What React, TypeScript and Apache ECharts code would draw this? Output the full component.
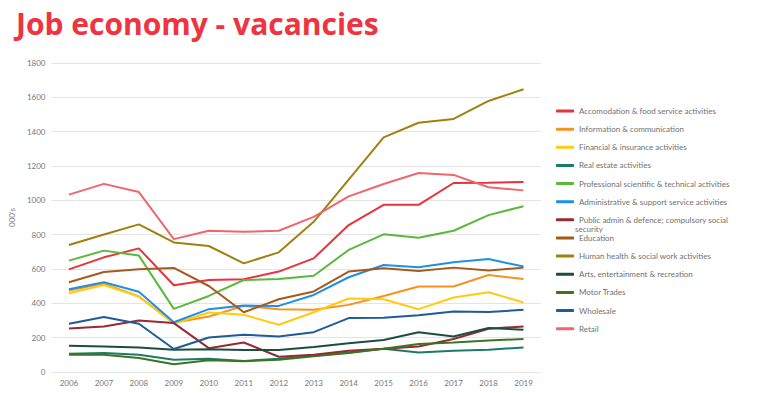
import React, { useEffect, useRef } from "react";
import * as echarts from "echarts";

const years = ["2006","2007","2008","2009","2010","2011","2012","2013","2014","2015","2016","2017","2018","2019"];

const accommodation = [598, 668, 720, 505, 536, 540, 585, 662, 856, 974, 974, 1101, 1103, 1107];
const information = [475, 515, 440, 287, 323, 385, 366, 362, 391, 443, 498, 498, 565, 542];
const financial = [459, 507, 440, 281, 347, 333, 275, 348, 428, 424, 366, 434, 465, 405];
const realEstate = [106, 110, 101, 72, 77, 64, 77, 95, 114, 136, 114, 124, 130, 143];
const professional = [649, 707, 678, 368, 443, 536, 542, 561, 711, 802, 782, 823, 914, 966];
const administrative = [482, 523, 467, 290, 366, 387, 385, 449, 552, 623, 610, 639, 658, 614];
const publicAdmin = [254, 265, 300, 285, 139, 172, 89, 101, 124, 136, 149, 192, 252, 265];
const education = [523, 583, 598, 606, 501, 348, 424, 469, 585, 604, 589, 608, 591, 608];
const health = [740, 801, 860, 755, 734, 633, 697, 875, 1120, 1367, 1452, 1474, 1579, 1647];
const arts = [153, 149, 143, 130, 132, 128, 128, 145, 168, 186, 232, 207, 256, 246];
const motor = [101, 101, 81, 45, 68, 62, 72, 91, 110, 136, 163, 172, 184, 192];
const wholesale = [281, 321, 281, 134, 201, 217, 207, 232, 314, 316, 331, 352, 349, 362];
const retail = [1033, 1096, 1048, 774, 823, 817, 823, 904, 1023, 1095, 1159, 1148, 1076, 1058];

const seriesDefs: [string, number[], string][] = [
  ["Accomodation & food service activities", accommodation, "#e8333c"],
  ["Information & communication", information, "#f7921e"],
  ["Financial & insurance activities", financial, "#ffcb10"],
  ["Real estate activities", realEstate, "#1b7a68"],
  ["Professional scientific & technical activities", professional, "#5ab93a"],
  ["Administrative & support service activities", administrative, "#1f8fe6"],
  ["Public admin & defence; compulsory social", publicAdmin, "#962a34"],
  ["Education", education, "#a35a1c"],
  ["Human health & social work activities", health, "#a0800e"],
  ["Arts, entertainment & recreation", arts, "#1d4d3d"],
  ["Motor Trades", motor, "#3d7424"],
  ["Wholesale", wholesale, "#1d5c98"],
  ["Retail", retail, "#f0666e"],
];

const yTicks = { min: 0, max: 1800, interval: 200 };

export default function App() {
  const ref = useRef<HTMLDivElement>(null);
  useEffect(() => {
    if (!ref.current) return;
    const chart = echarts.init(ref.current, undefined, { renderer: "svg" });
    const font = "Lato, 'Open Sans', sans-serif";
    chart.setOption({
      animation: false,
      backgroundColor: "#ffffff",
      textStyle: { fontFamily: font },
      title: {
        text: "Job economy - vacancies",
        left: 11,
        top: 3,
        textStyle: { color: "#ee3440", fontSize: 30, fontWeight: "bold", fontFamily: "'Open Sans', sans-serif" },
      },
      grid: { left: 40, right: 227, top: 63, bottom: 21 },
      legend: {
        orient: "vertical",
        left: 551,
        top: 101,
        itemWidth: 18,
        itemHeight: 3,
        itemGap: 8.14,
        icon: "roundRect",
        textStyle: { fontSize: 8, color: "#707070", lineHeight: 10, fontFamily: font },
        data: seriesDefs.map((s) => s[0]),
      },
      graphic: [
        {
          type: "text",
          left: 575,
          top: 225,
          style: { text: "security", fontSize: 8, fill: "#707070", fontFamily: font },
        },
      ],
      xAxis: {
        type: "category",
        data: years,
        boundaryGap: true,
        axisLine: { show: false },
        axisTick: { show: false },
        axisLabel: { fontSize: 8, color: "#777", margin: 7 },
      },
      yAxis: {
        type: "value",
        min: yTicks.min,
        max: yTicks.max,
        interval: yTicks.interval,
        name: "000's",
        nameLocation: "middle",
        nameGap: 33,
        nameTextStyle: { fontSize: 8, color: "#777" },
        axisLabel: { fontSize: 8, color: "#777", margin: 6, formatter: (v: number) => String(v) },
        splitLine: { lineStyle: { color: "#e4e4e4", width: 1 } },
      },
      series: seriesDefs.map(([name, data, color]) => ({
        name,
        type: "line",
        data,
        symbol: "none",
        color,
        lineStyle: { width: 2, color },
      })),
    });
    return () => chart.dispose();
  }, []);
  return <div ref={ref} style={{ width: 768, height: 393, position: "absolute", left: 0, top: 0 }} />;
}
